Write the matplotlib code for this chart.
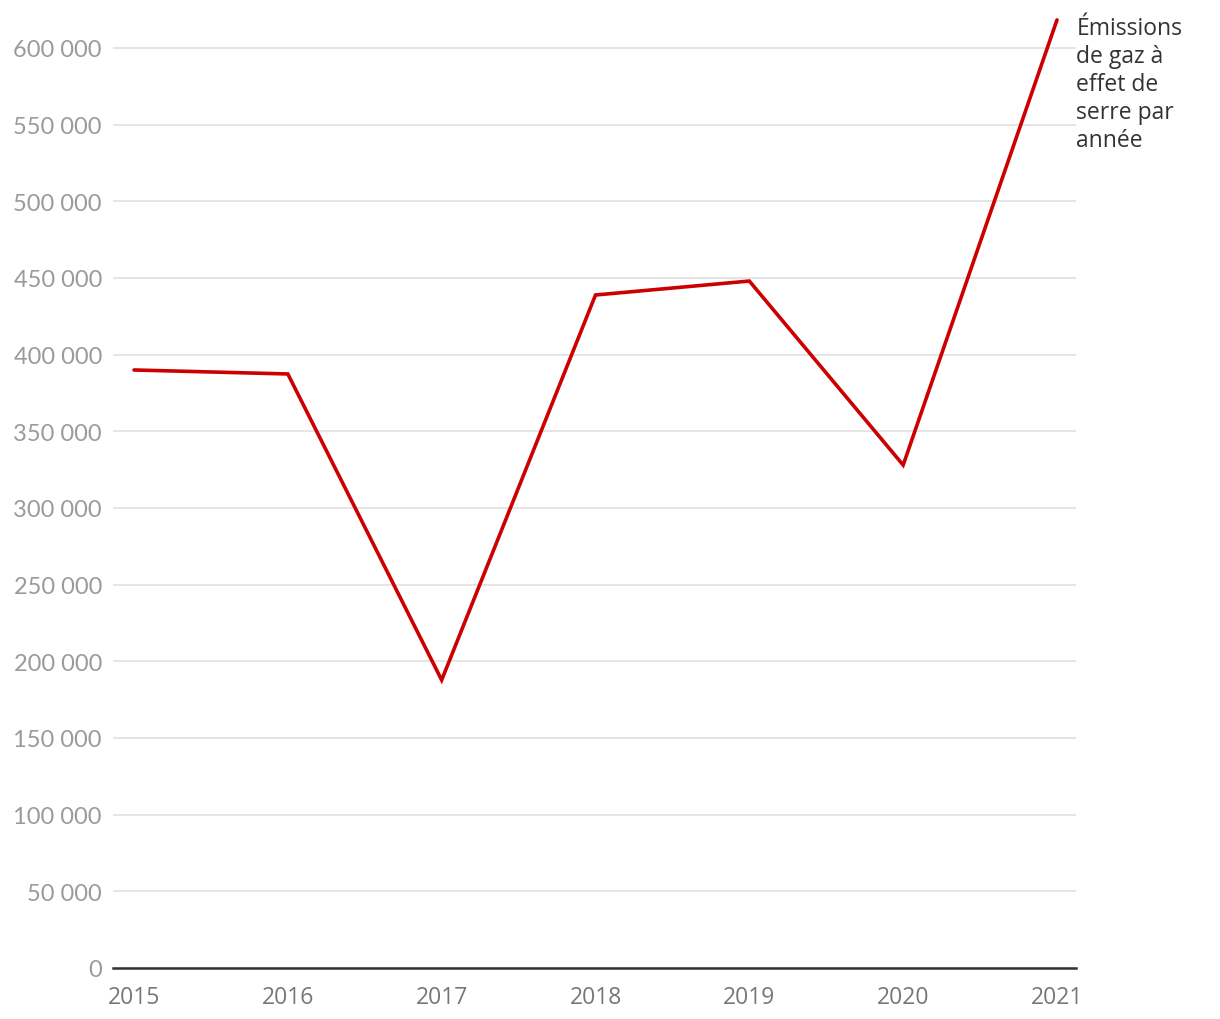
import matplotlib
matplotlib.use("Agg")
import matplotlib.pyplot as plt
from matplotlib.ticker import FuncFormatter

# Emissions de gaz a effet de serre par annee
years = [2015, 2016, 2017, 2018, 2019, 2020, 2021]
emissions = [390000, 387400, 187800, 438900, 448000, 328000, 618300]
yticks = list(range(0, 600001, 50000))

W, H = 1220, 1020
fig = plt.figure(figsize=(W / 100, H / 100), dpi=100)
ax = fig.add_axes([113 / W, 51 / H, (1076 - 113) / W, (969 - 18.3) / H])

ax.plot(years, emissions, color="#cc0000", lw=2.6, solid_joinstyle="miter",
        solid_capstyle="round", zorder=3)

ax.set_xlim(2015 - 21 / 153.83, 2021 + 19 / 153.83)
ax.set_ylim(0, 620000)

ax.set_yticks(yticks)
ax.yaxis.set_major_formatter(FuncFormatter(lambda v, p: f"{int(v):,}".replace(",", " ")))
ax.set_xticks(years)
ax.grid(axis="y", color="#e0e0e0", lw=1.2)
ax.set_axisbelow(True)
for s in ["top", "right", "left"]:
    ax.spines[s].set_visible(False)
ax.spines["bottom"].set_color("#333333")
ax.spines["bottom"].set_linewidth(1.8)
ax.spines["bottom"].set_zorder(4)

ax.tick_params(axis="y", length=0, pad=8, labelsize=17, labelcolor="#9a9a9a")
ax.tick_params(axis="x", length=0, pad=12, labelsize=16.5, labelcolor="#777777")
for lab in ax.get_yticklabels():
    lab.set_family("Lato")
for lab in ax.get_xticklabels():
    lab.set_family("Open Sans")

ax.annotate("Émissions\nde gaz à\neffet de\nserre par\nannée",
            xy=(years[-1], emissions[-1]), xytext=(14, 3), textcoords="offset points",
            ha="left", va="top", fontsize=16.5, family="Open Sans", color="#333333",
            linespacing=1.22, annotation_clip=False)

fig.savefig("out.png", dpi=100)
